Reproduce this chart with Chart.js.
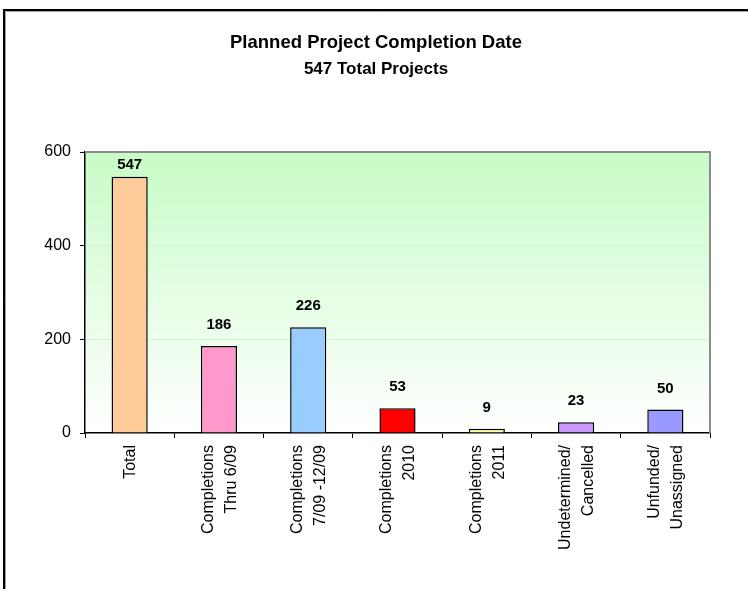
<!DOCTYPE html>
<html>
<head>
<meta charset="utf-8">
<script src="https://cdn.jsdelivr.net/npm/chart.js@4.4.1/dist/chart.umd.min.js"></script>
<style>
  html, body { margin: 0; padding: 0; background: #fff; }
  #wrap { width: 748px; height: 589px; }
</style>
</head>
<body>
<div id="wrap"><canvas id="chart" width="748" height="589"></canvas></div>
<script>
var categories = [
  ['Total'],
  ['Completions', 'Thru 6/09'],
  ['Completions', '7/09 -12/09'],
  ['Completions', '2010'],
  ['Completions', '2011'],
  ['Undetermined/', 'Cancelled'],
  ['Unfunded/', 'Unassigned']
];
var projectCounts = [547, 186, 226, 53, 9, 23, 50];
var barColors = ['#ffcc99', '#ff99cc', '#99ccff', '#ff0000', '#ffff99', '#cc99ff', '#9999ff'];
var yTicks = [0, 200, 400, 600];
var titleText = 'Planned Project Completion Date';
var subtitleText = '547 Total Projects';

var FONT = "'Liberation Sans', Arial, sans-serif";

// green-to-white plot background, like the old Excel fill
var plotBackground = {
  id: 'plotBackground',
  beforeDraw: function(chart) {
    var a = chart.chartArea, ctx = chart.ctx;
    var g = ctx.createLinearGradient(0, a.top, 0, a.bottom);
    g.addColorStop(0, '#c8fcc8');
    g.addColorStop(1, '#ffffff');
    ctx.save();
    ctx.fillStyle = g;
    ctx.fillRect(a.left, a.top, a.right - a.left, a.bottom - a.top);
    ctx.restore();
  }
};

// value labels above bars, category labels under the axis, borders
var extras = {
  id: 'extras',
  afterDatasetsDraw: function(chart) {
    var ctx = chart.ctx, a = chart.chartArea;
    var xs = chart.scales.x;
    var meta = chart.getDatasetMeta(0);

    ctx.save();
    // gray plot border on top and right
    ctx.strokeStyle = '#8c8c8c';
    ctx.lineWidth = 2;
    ctx.beginPath();
    ctx.moveTo(a.left, a.top);
    ctx.lineTo(a.right, a.top);
    ctx.lineTo(a.right, a.bottom);
    ctx.stroke();

    ctx.fillStyle = '#000';
    ctx.font = 'bold 15px ' + FONT;
    ctx.textAlign = 'center';
    ctx.textBaseline = 'middle';
    meta.data.forEach(function(bar, i) {
      var y = Math.max(bar.y - 21, a.top + 13);
      ctx.fillText(String(projectCounts[i]), bar.x, y);
    });

    ctx.font = '16px ' + FONT;
    ctx.textAlign = 'right';
    categories.forEach(function(lines, i) {
      var x = xs.getPixelForValue(i) + 1;
      var n = lines.length;
      for (var j = 0; j < n; j++) {
        var lx = x + (j - (n - 1) / 2) * 23;
        ctx.save();
        ctx.translate(lx, a.bottom + 12);
        ctx.rotate(-Math.PI / 2);
        ctx.fillText(lines[j], 0, 0);
        ctx.restore();
      }
    });
    ctx.restore();
  },
  afterDraw: function(chart) {
    var ctx = chart.ctx;
    ctx.save();
    ctx.strokeStyle = '#a0a0a0';
    ctx.lineWidth = 1;
    ctx.beginPath();
    ctx.moveTo(5.5, 589);
    ctx.lineTo(5.5, 11.5);
    ctx.lineTo(748, 11.5);
    ctx.stroke();
    ctx.strokeStyle = '#000';
    ctx.lineWidth = 2;
    ctx.beginPath();
    ctx.moveTo(4, 589);
    ctx.lineTo(4, 10);
    ctx.lineTo(748, 10);
    ctx.stroke();
    ctx.restore();
  }
};

new Chart(document.getElementById('chart'), {
  type: 'bar',
  data: {
    labels: categories,
    datasets: [{
      data: projectCounts,
      backgroundColor: barColors,
      borderColor: '#000',
      borderWidth: 1.5,
      categoryPercentage: 1,
      barPercentage: 0.405
    }]
  },
  options: {
    responsive: false,
    animation: false,
    devicePixelRatio: 1,
    layout: { padding: { left: 42, right: 38, top: 0, bottom: 0 } },
    plugins: {
      legend: { display: false },
      tooltip: { enabled: false },
      title: {
        display: true,
        text: titleText,
        color: '#000',
        font: { family: FONT, size: 18.5, weight: 'bold', lineHeight: 1.2 },
        padding: { top: 32, bottom: 5 }
      },
      subtitle: {
        display: true,
        text: subtitleText,
        color: '#000',
        font: { family: FONT, size: 17, weight: 'bold', lineHeight: 1.2 },
        padding: { top: 0, bottom: 72.4 }
      }
    },
    scales: {
      x: {
        offset: true,
        ticks: { display: false },
        grid: {
          offset: true,
          drawOnChartArea: false,
          drawTicks: true,
          tickLength: 5,
          tickColor: '#000'
        },
        border: { color: '#000', width: 1.5 },
        afterFit: function(s) { s.height = 156; }
      },
      y: {
        min: 0,
        max: 600,
        afterBuildTicks: function(s) {
          s.ticks = yTicks.map(function(v) { return { value: v }; });
        },
        ticks: {
          color: '#000',
          padding: 9,
          font: { family: FONT, size: 16 }
        },
        grid: {
          color: function(c) {
            return (c.tick && (c.tick.value === 200 || c.tick.value === 400)) ? '#d2f5d2' : 'rgba(0,0,0,0)';
          },
          tickColor: '#000',
          tickLength: 5,
          lineWidth: 1
        },
        border: { color: '#000', width: 1.5 },
        afterFit: function(s) { s.width = 43; }
      }
    }
  },
  plugins: [plotBackground, extras]
});
</script>
</body>
</html>
